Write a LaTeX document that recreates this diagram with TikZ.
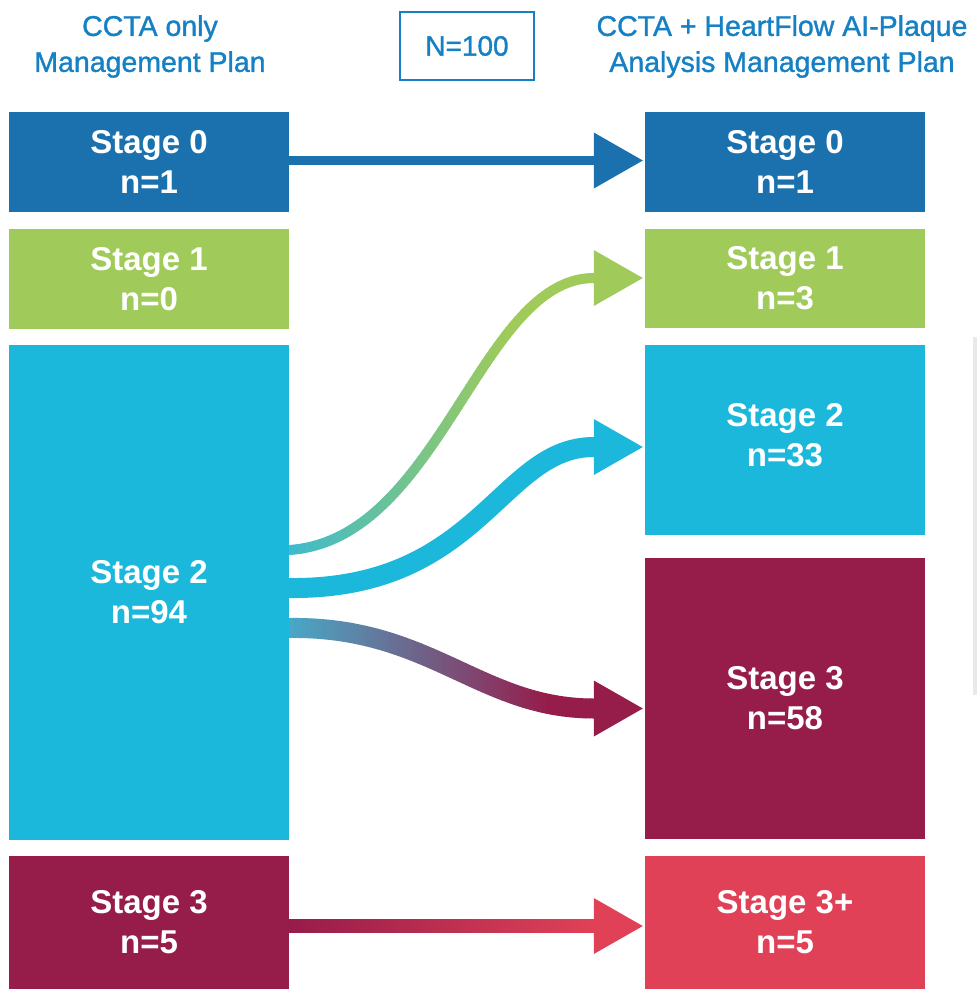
\documentclass[tikz,border=0pt]{standalone}
\usepackage{fontspec}
\setmainfont{Liberation Sans}
\newfontfamily\headingfont[FakeBold=1.2]{Liberation Sans}
\usetikzlibrary{calc,backgrounds}

\definecolor{stzero}{HTML}{1A71AD}
\definecolor{stone}{HTML}{A0CB5A}
\definecolor{sttwo}{HTML}{1CB8DB}
\definecolor{stthree}{HTML}{961C4A}
\definecolor{stred}{HTML}{E04157}
\definecolor{titleblue}{HTML}{1680C4}
\definecolor{tealstart}{HTML}{3EBBCD}
\definecolor{bluestart}{HTML}{48A9C8}
\definecolor{faintline}{HTML}{E9E8EF}

% Stroke a path with a horizontal colour gradient, built from thin clipped strips.
% #1 path, #2 line width, #3 colour on the left, #4 colour on the right,
% #5 x where the blend starts, #6 x where it ends
\newcommand\gradstroke[6]{%
  \foreach \sx in {278,282,...,598}{%
    \pgfmathsetmacro\mixp{max(0,min(100,(\sx+2-#5)/(#6-#5)*100))}%
    \colorlet{flowtmp}{#4!\mixp!#3}%
    \begin{scope}
      \clip (\sx-0.4,0) rectangle (\sx+4.4,989);
      \draw[line width=#2, flowtmp] #1;
    \end{scope}
  }%
}

\begin{document}
\begin{tikzpicture}[x=1pt,y=-1pt,
  stagebox/.style={draw=none, inner sep=0pt, minimum width=280pt, text=white,
    align=center, font=\fontsize{33}{40}\selectfont\bfseries},
  heading/.style={text=titleblue, align=center, inner sep=0pt,
    font=\headingfont\fontsize{28.5}{36}\selectfont},
  headtip/.style={fill=#1},
]
\useasboundingbox (0,0) rectangle (977,989);

% column headings and total
\node[heading] (tl) at (150,46.5) {CCTA only\\Management Plan};
\node[heading] (tr) at (782,46.5) {CCTA + HeartFlow AI-Plaque\\Analysis Management Plan};
\node[draw=titleblue, line width=2pt, minimum width=134pt, minimum height=68pt,
  inner sep=0pt, text=titleblue, font=\headingfont\fontsize{28}{34}\selectfont] (total) at (467,46) {N=100};

% left column
\node[stagebox, fill=stzero,  minimum height=100pt] (l0) at (149,162)   {Stage 0\\n=1};
\node[stagebox, fill=stone,   minimum height=100pt] (l1) at (149,279)   {Stage 1\\n=0};
\node[stagebox, fill=sttwo,   minimum height=495pt] (l2) at (149,592.5) {Stage 2\\n=94};
\node[stagebox, fill=stthree, minimum height=133pt] (l3) at (149,922.5) {Stage 3\\n=5};

% right column
\node[stagebox, fill=stzero,  minimum height=100pt] (r0) at (785,162)   {Stage 0\\n=1};
\node[stagebox, fill=stone,   minimum height=99pt]  (r1) at (785,278.5) {Stage 1\\n=3};
\node[stagebox, fill=sttwo,   minimum height=190pt, text depth=10pt] (r2) at (785,440) {Stage 2\\n=33};
\node[stagebox, fill=stthree, minimum height=281pt] (r3) at (785,698.5) {Stage 3\\n=58};
\node[stagebox, fill=stred,   minimum height=133pt] (r4) at (785,922.5) {Stage 3+\\n=5};

% end points of the flows
\coordinate (z0) at ($(l0.east)+(0,-1.5)$);
\coordinate (z1) at ($(r0.west)+(-51,-1.5)$);
\coordinate (g0) at ($(l2.east)+(0,-42.5)$);
\coordinate (g1) at ($(r1.west)+(-51,-0.5)$);
\coordinate (c0) at ($(l2.east)+(0,-4.5)$);
\coordinate (c1) at ($(r2.west)+(-51,7)$);
\coordinate (m0) at ($(l2.east)+(0,35.5)$);
\coordinate (m1) at ($(r3.west)+(-51,10)$);
\coordinate (s0) at ($(l3.east)+(0,3.5)$);
\coordinate (s1) at ($(r4.west)+(-51,3.5)$);

\begin{scope}[on background layer]
  % Stage 0 -> Stage 0
  \draw[line width=9pt, stzero] ($(z0)+(-8,0)$) -- ($(z1)+(2,0)$);
  \fill[headtip=stzero] (z1) ++(0,-28) -- ++(49,28) -- ++(-49,28) -- cycle;

  % Stage 2 -> Stage 1
  \gradstroke{($(g0)+(-8,0)$) -- (g0) .. controls ($(g0)+(151,-10)$) and ($(g1)+(-114,0)$) .. (g1) -- ++(2,0)}{10pt}{tealstart}{stone}{289}{510}
  \fill[headtip=stone] (g1) ++(0,-28) -- ++(49,28) -- ++(-49,28) -- cycle;

  % Stage 2 -> Stage 2
  \draw[line width=20pt, sttwo] ($(c0)+(-8,0)$) -- (c0) .. controls ($(c0)+(191,2)$) and ($(c1)+(-94,0)$) .. (c1) -- ++(2,0);
  \fill[headtip=sttwo] (c1) ++(0,-28) -- ++(49,28) -- ++(-49,28) -- cycle;

  % Stage 2 -> Stage 3
  \gradstroke{($(m0)+(-8,0)$) -- (m0) .. controls ($(m0)+(141,-2)$) and ($(m1)+(-114,0)$) .. (m1) -- ++(2,0)}{20pt}{bluestart}{stthree}{289}{550}
  \fill[headtip=stthree] (m1) ++(0,-28) -- ++(49,28) -- ++(-49,28) -- cycle;

  % Stage 3 -> Stage 3+
  \gradstroke{($(s0)+(-8,0)$) -- ($(s1)+(2,0)$)}{14pt}{stthree}{stred}{289}{594}
  \fill[headtip=stred] (s1) ++(0,-28) -- ++(49,28) -- ++(-49,28) -- cycle;
\end{scope}

% thin grey rule at the right edge
\fill[faintline] (973,337) rectangle (976.5,695);
\end{tikzpicture}
\end{document}
